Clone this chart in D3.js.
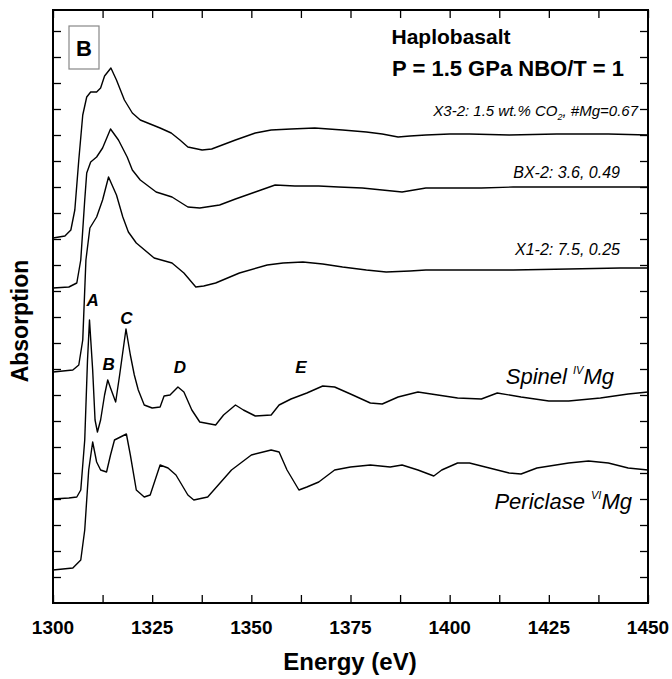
<!DOCTYPE html>
<html>
<head>
<meta charset="utf-8">
<script src="https://cdn.jsdelivr.net/npm/d3@7"></script>
<style>
  body { margin: 0; background: #fff; }
  text { font-family: Arial, "Liberation Sans", sans-serif; }
</style>
</head>
<body>
<svg id="chart" width="672" height="679"></svg>
<script>
// Values; y in plot-pixel units from the bottom axis (603 - py)
var xTicks = [1300, 1325, 1350, 1375, 1400, 1425, 1450];

var x32 = [[1300,238],[1303,236],[1304.5,230],[1305.5,210],[1306.5,160],[1307.5,115],[1308.5,97],[1309.5,92],[1311,92],[1312,88],[1313,76],[1314.6,68],[1316,80],[1318,100],[1320,113],[1322,120],[1324.5,124],[1327,128],[1329.8,133],[1332,140],[1334,147],[1337.6,150],[1340,149],[1342,146],[1346,140],[1351,133],[1355,130],[1360,129],[1366,128],[1373,130],[1379,132],[1383,134],[1387,137],[1390,136],[1394,135],[1400,134],[1405,134],[1415,135],[1427,134],[1440,134],[1450,135]];
var bx2 = [[1300,288],[1304,287],[1306,283],[1307,260],[1308,200],[1308.5,173],[1309.5,162],[1311,157],[1312.5,148],[1314.5,129],[1316.5,140],[1318.7,157],[1320,170],[1322,180],[1326,192],[1330,197],[1334,207],[1337,208],[1342,205],[1346,199],[1351,192],[1356,185],[1361,186],[1367,186],[1372,187],[1378,188],[1383,190],[1388,192],[1394,188],[1400,188],[1408,188],[1416,187],[1430,187],[1440,187],[1448,187],[1450,187]];
var x12 = [[1300,372],[1305,370],[1306.5,365],[1307.5,340],[1308.3,260],[1309.3,228],[1311,217],[1312.5,200],[1314,177],[1316,195],[1317.6,217],[1319,232],[1321,243],[1325.5,258],[1330,263],[1333,273],[1336,287],[1338,286],[1341,283],[1347,273],[1354,265],[1358,263],[1363,262],[1368,264],[1373,267],[1379,270],[1384,272],[1390,271],[1394,270],[1405,270],[1416,270],[1430,269],[1443,268],[1450,268]];
var spinel = [[1300,499],[1304,498],[1306,497],[1307,490],[1308,440],[1308.7,360],[1309.2,320],[1310,370],[1310.6,420],[1311.2,432],[1312,420],[1313,395],[1313.8,380],[1314.5,388],[1315.8,402],[1316.8,375],[1318.4,329],[1319.5,355],[1320.5,375],[1321.5,390],[1323,405],[1325,408],[1327,407],[1328,396],[1329.5,395],[1331.5,387],[1333,392],[1335,410],[1337,422],[1341,425],[1343,415],[1346,405],[1348,410],[1351,416],[1355,415],[1357,405],[1360,399],[1364,393],[1368,386],[1371,387],[1375,394],[1380,403],[1383,404],[1387,397],[1392,392],[1397,395],[1402,398],[1408,399],[1412,393],[1418,397],[1425,401],[1430,401],[1438,398],[1445,394],[1450,392]];
var periclase = [[1300,570],[1305,568],[1307,560],[1308,530],[1309,470],[1310,442],[1311,462],[1312,470],[1313.5,472],[1314.5,455],[1315.5,440],[1317,437],[1318.5,434],[1319.5,455],[1321,490],[1323,497],[1324.5,495],[1327,465],[1329,468],[1331,475],[1334,495],[1335.5,500],[1339,497],[1345,470],[1350,455],[1355,450],[1357,452],[1359,470],[1362,490],[1364,487],[1367,482],[1371,470],[1375,467],[1380,465],[1385,467],[1388,465],[1392,470],[1396,476],[1398,470],[1402,463],[1405,463],[1410,468],[1415,473],[1418,474],[1422,468],[1430,463],[1435,461],[1440,463],[1445,468],[1450,470]];

var peakLabels = [["A",1310,300],["B",1314,364],["C",1318.5,318],["D",1332,367],["E",1362.5,367]];

var margin = {left: 53, right: 24, top: 10, bottom: 76};
var W = 672, H = 679;
var iw = W - margin.left - margin.right, ih = H - margin.top - margin.bottom;
var yMax = ih / 26;

var svg = d3.select('#chart');
var g = svg.append('g').attr('transform', 'translate(' + margin.left + ',' + margin.top + ')');
var x = d3.scaleLinear().domain([1300, 1450]).range([0, iw]);
var y = d3.scaleLinear().domain([0, yMax]).range([ih, 0]);
var toY = function(py) { return (603 - py) / 26; };

var minor = d3.range(1300, 1451, 12.5);
var yt = d3.range(1, Math.floor(yMax) + 1);
g.append('g').attr('transform', 'translate(0,' + ih + ')')
  .call(d3.axisBottom(x).tickValues(minor).tickSize(-8).tickFormat(''));
g.append('g').call(d3.axisTop(x).tickValues(minor).tickSize(-8).tickFormat(''));
g.append('g').call(d3.axisLeft(y).tickValues(yt).tickSize(-8).tickFormat(''));
g.append('g').attr('transform', 'translate(' + iw + ',0)')
  .call(d3.axisRight(y).tickValues(yt).tickSize(-8).tickFormat(''));
g.selectAll('.domain').remove();
g.selectAll('.tick line').attr('stroke', '#000').attr('stroke-width', 1.3);
g.append('rect').attr('width', iw).attr('height', ih).attr('fill', 'none')
  .attr('stroke', '#000').attr('stroke-width', 2);

g.selectAll('.xl').data(xTicks).enter().append('text')
  .attr('x', function(d) { return x(d); }).attr('y', ih + 31)
  .attr('text-anchor', 'middle').attr('font-size', 19).attr('font-weight', 'bold')
  .text(function(d) { return d; });

var line = d3.line().x(function(d) { return x(d[0]); }).y(function(d) { return y(toY(d[1])); });
[x32, bx2, x12, spinel, periclase].forEach(function(s) {
  g.append('path').datum(s).attr('d', line).attr('fill', 'none')
    .attr('stroke', '#000').attr('stroke-width', 1.4).attr('stroke-linejoin', 'round');
});

peakLabels.forEach(function(p) {
  g.append('text').attr('x', x(p[1])).attr('y', y(toY(p[2])) + 6)
    .attr('text-anchor', 'middle').attr('font-size', 17).attr('font-weight', 'bold')
    .attr('font-style', 'italic').text(p[0]);
});

function it(t, xp, yp, size) {
  return svg.append('text').attr('x', xp).attr('y', yp).attr('text-anchor', 'end')
    .attr('font-size', size).attr('font-style', 'italic').text(t);
}
var t1 = it('', 638, 116, 15);
t1.append('tspan').text('X3-2: 1.5 wt.% CO');
t1.append('tspan').attr('font-size', 9).attr('dy', 4).text('2');
t1.append('tspan').attr('dy', -4).text(', #Mg=0.67');
it('BX-2: 3.6, 0.49', 620, 178, 16);
it('X1-2: 7.5, 0.25', 620, 255, 16);
var t4 = it('', 614, 384, 22);
t4.append('tspan').text('Spinel ');
t4.append('tspan').attr('font-size', 11).attr('dy', -10).text('IV');
t4.append('tspan').attr('dy', 10).text('Mg');
var t5 = it('', 632, 509, 22);
t5.append('tspan').text('Periclase ');
t5.append('tspan').attr('font-size', 11).attr('dy', -10).text('VI');
t5.append('tspan').attr('dy', 10).text('Mg');

svg.append('text').attr('x', 451).attr('y', 44).attr('text-anchor', 'middle')
  .attr('font-size', 21).attr('font-weight', 'bold').text('Haplobasalt');
svg.append('text').attr('x', 624).attr('y', 76).attr('text-anchor', 'end')
  .attr('font-size', 22).attr('font-weight', 'bold').text('P = 1.5 GPa NBO/T = 1');

svg.append('rect').attr('x', 69).attr('y', 26).attr('width', 30).attr('height', 43)
  .attr('fill', '#fff').attr('stroke', '#888').attr('stroke-width', 1.2);
svg.append('text').attr('x', 84).attr('y', 56).attr('text-anchor', 'middle')
  .attr('font-size', 22).attr('font-weight', 'bold').text('B');

svg.append('text').attr('x', 350).attr('y', 670).attr('text-anchor', 'middle')
  .attr('font-size', 24).attr('font-weight', 'bold').text('Energy (eV)');
svg.append('text').attr('transform', 'translate(28,321) rotate(-90)').attr('text-anchor', 'middle')
  .attr('font-size', 23).attr('font-weight', 'bold').text('Absorption');
</script>
</body>
</html>
